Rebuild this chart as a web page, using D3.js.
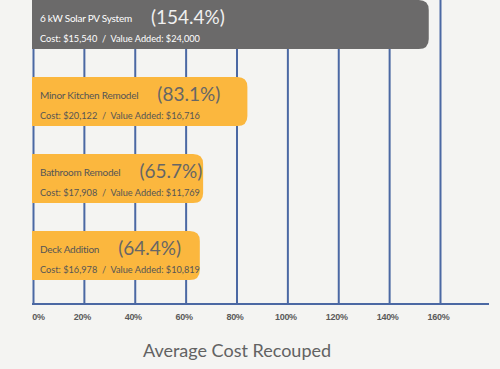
<!DOCTYPE html>
<html><head><meta charset="utf-8">
<script src="https://cdn.jsdelivr.net/npm/d3@7"></script>
<style>
html,body{margin:0;padding:0;background:#f4f4f2;}
svg{display:block;}
</style></head>
<body>
<svg id="chart" width="500" height="369"></svg>
<script>
const categories = ["6 kW Solar PV System","Minor Kitchen Remodel","Bathroom Remodel","Deck Addition"];
const percents = [154.4, 83.1, 65.7, 64.4];
const costs = ["$15,540","$20,122","$17,908","$16,978"];
const valuesAdded = ["$24,000","$16,716","$11,769","$10,819"];
const tickValues = [0,20,40,60,80,100,120,140,160];
const tickLabels = ["0%","20%","40%","60%","80%","100%","120%","140%","160%"];
const axisTitle = "Average Cost Recouped";

const svg = d3.select("#chart");
const baseY = 304;
const x = d3.scaleLinear().domain([0,160]).range([33,440]);
const y = d3.scaleBand().domain(categories).range([0,280]).paddingInner(0.3636).paddingOuter(0);

const grid = "#4b68a3";
const axis = d3.axisBottom(x).tickValues(tickValues)
  .tickFormat((d,i)=>tickLabels[i]).tickSizeInner(-baseY).tickSizeOuter(0).tickPadding(10);
const gAx = svg.append("g").attr("transform",`translate(0,${baseY})`).call(axis);
gAx.select(".domain").remove();
gAx.selectAll(".tick line").attr("stroke",grid).attr("stroke-width",2);
gAx.selectAll(".tick text").attr("fill","#5a5a5a").attr("font-family","'Liberation Sans Narrow','Arial Narrow',sans-serif")
  .attr("font-weight","bold").attr("font-size",9).attr("letter-spacing","-0.3px").attr("dx",(d,i)=> i===0 ? 5 : -2);
svg.append("line").attr("x1",x(0)-1).attr("x2",489).attr("y1",baseY).attr("y2",baseY)
  .attr("stroke",grid).attr("stroke-width",2);

function barPath(x0,y0,w,h,r){
  return `M${x0},${y0}H${x0+w-r}Q${x0+w},${y0} ${x0+w},${y0+r}V${y0+h-r}Q${x0+w},${y0+h} ${x0+w-r},${y0+h}H${x0}Z`;
}
const pad = 4;
const bars = svg.append("g").selectAll("g").data(categories).join("g");
bars.append("path").attr("d",(d,i)=>barPath(x(0)-1, y(d), x(percents[i])-x(0)+pad, y.bandwidth(), 10))
  .attr("fill",(d,i)=> i===0 ? "#6b6a6a" : "#fbb73e");

const font = "Lato, 'Open Sans', sans-serif";
bars.each(function(d,i){
  const g = d3.select(this);
  const top = y(d);
  const dark = i===0;
  const name = g.append("text").attr("x",40).attr("y",top+22).attr("font-family",font)
    .attr("font-size",10).attr("letter-spacing","-0.25px").attr("fill",dark?"#ffffff":"#555555").text(d);
  const nw = name.node().getComputedTextLength();
  g.append("text").attr("x",40+nw+19).attr("y",top+24).attr("font-family",font)
    .attr("font-size",19).attr("fill",dark?"#f0f0f0":"#666666").text(`(${percents[i]}%)`);
  g.append("text").attr("x",40).attr("y",top+42).attr("font-family",font)
    .attr("font-size",9.2).attr("fill",dark?"#ffffff":"#555555")
    .attr("xml:space","preserve")
    .text(`Cost: ${costs[i]}  /  Value Added: ${valuesAdded[i]}`);
});

svg.append("text").attr("x",237).attr("y",357).attr("text-anchor","middle")
  .attr("font-family",font).attr("font-size",18).attr("fill","#626262").text(axisTitle);
</script>
</body></html>
